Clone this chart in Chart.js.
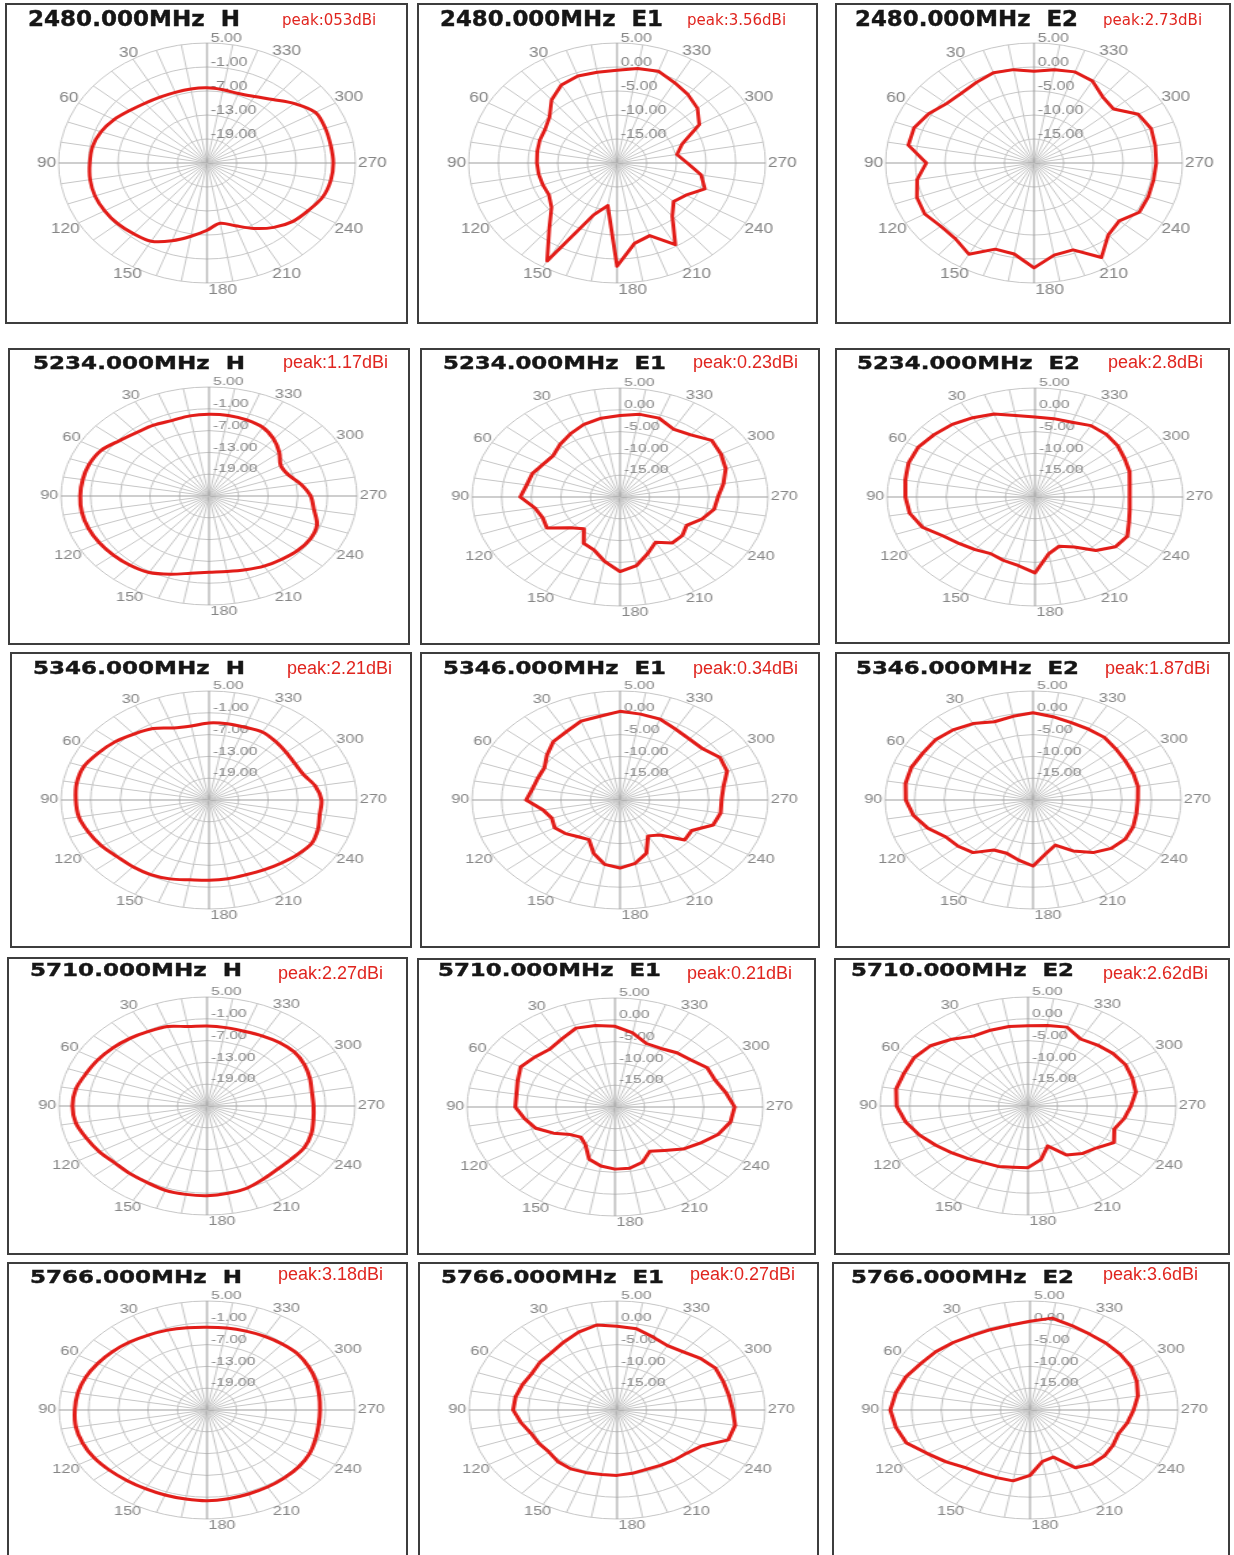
<!DOCTYPE html>
<html>
<head>
<meta charset="utf-8">
<title>Radiation patterns</title>
<script src="https://cdn.jsdelivr.net/npm/chart.js@4.4.1/dist/chart.umd.min.js"></script>
<style>
  html, body { margin: 0; padding: 0; background: #fff; }
  body { position: relative; width: 1234px; height: 1555px; overflow: hidden; font-family: "Liberation Sans", Arial, sans-serif; }
  .panel { position: absolute; box-sizing: border-box; border: 2px solid #3d3d3d; background: #fff; }
  canvas.plot { position: absolute; }
  .title { position: absolute; white-space: pre; font-family: "DejaVu Sans", sans-serif; font-weight: bold; color: #161616; line-height: 1; transform-origin: 0 0; -webkit-text-stroke: 0.4px #161616; }
  .peak { position: absolute; white-space: pre; color: #e0251f; line-height: 1; transform-origin: 0 0; }
</style>
</head>
<body>
<script>
// Measurement angles (degrees, counter-clockwise from the top)
const angleDeg = [0, 10, 20, 30, 40, 50, 60, 70, 80, 90, 100, 110, 120, 130, 140, 150, 160, 170,
                  180, 190, 200, 210, 220, 230, 240, 250, 260, 270, 280, 290, 300, 310, 320, 330, 340, 350];

// Ring levels (dB) of the two scale types
const ringLevelsH = [-25, -19, -13, -7, -1, 5];
const ringLevelsE = [-20, -15, -10, -5, 0, 5];

// Gain (dBi) per angle
const gain2480H  = [-6.2, -6.2, -6.2, -6.0, -5.5, -4.6, -3.3, -2.2, -1.5, -1.3, -1.0, -0.9, -1.1, -1.4, -1.9, -2.4, -4.3, -6.4,
                    -8.2, -9.7, -8.3, -6.1, -4.0, -2.3, -1.3, -0.1, 0.4, 0.53, 0.4, 0.45, 0.3, -1.9, -4.3, -5.8, -6.5, -6.4];
const gain2480E1 = [-0.7, -0.8, -0.7, -1.25, -2.85, -5.15, -6.0, -6.15, -6.35, -6.5, -6.6, -6.7, -6.75, -5.6, -2.25, 3.56, -8.5, -11.0,
                    1.5, -3.0, -3.9, -0.35, -5.5, -7.55, -6.6, -4.25, -5.6, -8.15, -9.75, -8.3, -4.0, -2.3, -1.4, -0.65, 0.35, 0.0];
const gain2480E2 = [-0.9, -0.25, 0.0, -0.6, -1.0, -0.75, 0.5, 1.5, 1.5, -1.85, 0.0, 1.0, 1.25, 0.5, 0.6, 1.95, -0.9, -0.75,
                    1.85, -0.5, -0.75, 2.73, -0.5, -1.25, 0.5, 0.5, 0.45, 0.6, 0.75, 1.0, 0.3, -2.5, -2.0, -0.3, 0.2, -0.25];

const gain5234H  = [-2.5, -2.6, -2.9, -2.5, -2.2, -1.3, 0.2, 0.8, 1.0, 1.1, 1.17, 1.0, 0.7, 0.3, -0.1, -0.7, -2.1, -3.4,
                    -4.0, -3.9, -3.4, -2.7, -2.2, -1.6, -1.3, -1.7, -3.4, -4.4, -6.1, -7.9, -8.2, -6.4, -4.6, -3.2, -2.7, -2.5];
const gain5234E1 = [-1.3, -1.65, -2.25, -3.25, -4.25, -5.25, -5.0, -4.25, -4.0, -3.15, -5.4, -6.1, -5.75, -9.0, -10.5, -7.75, -7.1, -5.0,
                    -2.9, -4.0, -6.25, -8.0, -6.25, -6.25, -7.0, -5.25, -3.85, -3.45, -2.25, -1.0, -0.3, 0.23, -1.4, -2.0, -0.75, -0.75];
const gain5234E2 = [-1.65, -1.0, 0.25, 1.0, 1.75, 2.25, 2.8, 2.75, 2.25, 1.9, 1.5, 0.25, -2.1, -3.35, -4.25, -5.0, -4.5, -4.0,
                    -2.6, -6.75, -8.0, -6.75, -4.0, -2.25, -2.0, -3.1, -3.75, -4.0, -3.75, -3.0, -2.5, -1.75, -1.25, -1.1, -1.75, -1.75];

const gain5346H  = [-3.8, -4.3, -3.9, -2.3, -1.3, -0.1, 0.9, 2.0, 2.21, 2.0, 1.8, 1.0, 0.2, -0.7, -1.0, -1.3, -1.9, -2.7,
                    -2.9, -3.0, -3.1, -2.8, -2.3, -1.6, -1.0, -1.5, -2.2, -2.2, -3.1, -4.6, -4.9, -4.6, -4.0, -3.4, -3.7, -3.7];
const gain5346E1 = [0.34, -0.5, -0.75, -1.9, -2.5, -3.9, -5.25, -5.25, -5.0, -4.15, -6.8, -7.75, -7.25, -8.0, -9.0, -9.5, -7.0, -5.0,
                    -4.4, -5.25, -7.0, -10.5, -9.5, -5.75, -6.0, -3.25, -2.75, -2.85, -2.25, -0.75, -0.5, -1.75, -1.75, -1.25, -0.25, 0.0];
const gain5346E2 = [0.0, -0.5, -0.9, 0.25, 1.0, 1.5, 1.5, 1.87, 1.87, 1.5, 0.5, -1.1, -3.0, -3.5, -4.25, -6.75, -7.0, -6.0,
                    -4.85, -7.5, -9.0, -6.5, -4.25, -2.75, -2.0, -2.0, -2.25, -2.3, -2.0, -2.0, -2.0, -1.75, -1.25, -1.25, -1.1, -0.6];

const gain5710H  = [-3.0, -2.8, -1.7, -1.3, -0.7, -0.1, 0.5, 1.1, 2.0, 2.27, 2.0, 1.0, 0.2, -0.6, -0.7, -0.7, -0.3, -0.3,
                    -0.3, -0.6, -1.0, -1.9, -2.5, -2.5, -2.2, -2.5, -3.1, -3.4, -3.4, -2.8, -2.2, -1.9, -2.2, -2.7, -3.1, -3.1];
const gain5710E1 = [-1.5, -1.0, -0.75, -2.0, -2.75, -2.25, -1.6, -2.5, -3.1, -3.15, -4.5, -5.75, -8.0, -10.15, -11.0, -10.0, -7.25, -6.25,
                    -5.75, -5.75, -6.5, -8.25, -7.0, -5.0, -3.4, -1.5, -0.2, 0.21, -1.0, -2.0, -2.0, -3.25, -3.75, -4.5, -4.5, -2.75];
const gain5710E2 = [-1.6, -1.5, -1.5, -1.5, 0.0, 1.5, 2.2, 2.25, 2.62, 2.2, 1.0, -0.5, -2.0, -3.25, -4.25, -5.0, -5.25, -5.75,
                    -5.85, -7.5, -10.25, -7.0, -5.75, -5.0, -3.25, -4.5, -3.5, -2.6, -1.5, -1.25, -1.0, -1.25, -1.75, -2.25, -0.75, -1.25];

const gain5766H  = [-2.2, -2.0, -1.6, -1.2, -0.6, 0.0, 0.6, 1.2, 1.6, 1.8, 2.0, 1.8, 1.4, 0.8, 0.3, 0.0, -0.1, -0.1,
                    0.0, -0.2, -0.4, -0.5, -0.6, -0.7, -1.0, -1.6, -2.0, -2.1, -1.9, -1.5, -1.2, -1.0, -1.3, -1.6, -1.9, -2.1];
const gain5766E1 = [-0.8, -0.2, -1.0, -2.0, -2.8, -3.0, -3.35, -3.0, -2.6, -2.45, -3.5, -4.5, -4.75, -5.0, -4.5, -4.4, -4.7, -5.0,
                    -5.0, -5.25, -5.5, -5.35, -5.0, -4.6, -3.5, 0.0, 0.27, -0.45, -0.8, -0.9, -0.8, -1.6, -2.6, -2.95, -2.2, -1.1];
const gain5766E2 = [0.35, -0.25, -0.4, -0.3, 0.2, 0.8, 1.3, 2.3, 3.0, 3.6, 3.0, 2.2, 0.0, -1.5, -2.8, -3.3, -3.5, -3.5,
                    -5.0, -8.0, -8.5, -4.7, -3.8, -3.6, -3.8, -4.1, -3.3, -2.5, -1.5, -0.8, -0.25, -0.1, 0.0, 0.1, 0.6, 1.4];

// Panel headings
const frequencies = ['2480.000MHz', '5234.000MHz', '5346.000MHz', '5710.000MHz', '5766.000MHz'];
const polarisations = ['H', 'E1', 'E2'];
const peakLabels = [
  ['peak:053dBi', 'peak:3.56dBi', 'peak:2.73dBi'],
  ['peak:1.17dBi', 'peak:0.23dBi', 'peak:2.8dBi'],
  ['peak:2.21dBi', 'peak:0.34dBi', 'peak:1.87dBi'],
  ['peak:2.27dBi', 'peak:0.21dBi', 'peak:2.62dBi'],
  ['peak:3.18dBi', 'peak:0.27dBi', 'peak:3.6dBi']
];
const gains = [
  [gain2480H, gain2480E1, gain2480E2],
  [gain5234H, gain5234E1, gain5234E2],
  [gain5346H, gain5346E1, gain5346E2],
  [gain5710H, gain5710E1, gain5710E2],
  [gain5766H, gain5766E1, gain5766E2]
];

// ---- page layout ----
// per panel: box left, top, right, bottom, plot centre x, y, title x, peak x
const panelBoxes = [
  [[5, 3, 408, 324, 207, 163, 28, 282], [417, 3, 818, 324, 617, 163, 440, 687], [835, 3, 1231, 324, 1034, 163, 855, 1103]],
  [[8, 348, 410, 645, 209, 496, 33, 283], [420, 348, 820, 645, 620, 497, 443, 693], [835, 348, 1230, 644, 1035, 497, 857, 1108]],
  [[10, 652, 412, 948, 209, 800, 33, 287], [420, 652, 820, 948, 620, 800, 443, 693], [835, 652, 1230, 948, 1033, 800, 856, 1105]],
  [[7, 957, 408, 1255, 207, 1106, 30, 278], [417, 958, 816, 1255, 615, 1107, 438, 687], [834, 958, 1230, 1255, 1028, 1106, 851, 1103]],
  [[7, 1262, 408, 1580, 207, 1410, 30, 278], [418, 1262, 819, 1580, 617, 1410, 441, 690], [832, 1262, 1230, 1580, 1030, 1410, 851, 1103]]
];
// per row: vertical radius, title cap top, peak text mid line, fonts
const rowStyles = [
  { ry: 120, capTop: 12,   peakMid: 21.5, titleSize: 21,   peakFamily: '"DejaVu Sans"', peakSize: 15, tickSize: 13,   pointSize: 14 },
  { ry: 109, capTop: 356,  peakMid: 364,  titleSize: 18.5, peakFamily: '"Liberation Sans", Arial', peakSize: 18, tickSize: 11.5, pointSize: 12 },
  { ry: 109, capTop: 661,  peakMid: 670,  titleSize: 18.5, peakFamily: '"Liberation Sans", Arial', peakSize: 18, tickSize: 11.5, pointSize: 12 },
  { ry: 109, capTop: 963,  peakMid: 975,  titleSize: 18.5, peakFamily: '"Liberation Sans", Arial', peakSize: 18, tickSize: 11.5, pointSize: 12 },
  { ry: 109, capTop: 1270, peakMid: 1276, titleSize: 18.5, peakFamily: '"Liberation Sans", Arial', peakSize: 18, tickSize: 11.5, pointSize: 12 }
];
const RX = 148;          // horizontal radius of the outer ring on the page
const MARGIN = 28;       // room around the outer ring for the angle labels
const LINE_RED = '#e21d19';
const GRID = '#c6c6c6';
const AXIS = '#9d9d9d';
const LABEL_GREY = '#858585';

// clockwise drawing order starting at the top (angles run counter-clockwise)
const drawOrder = angleDeg.map((_, i) => (angleDeg.length - i) % angleDeg.length);

// Value and angle labels drawn from the radial scale
const polarText = {
  id: 'polarText',
  beforeDatasetsDraw(chart, args, opts) {
    const s = chart.scales.r;
    const ctx = chart.ctx;
    ctx.save();
    ctx.fillStyle = opts.color;
    ctx.textBaseline = 'middle';

    ctx.font = opts.tickSize + 'px "Liberation Sans", Arial, sans-serif';
    ctx.textAlign = 'left';
    s.ticks.forEach(t => {
      if (t.value <= s.min) return;
      const d = s.getDistanceFromCenterForValue(t.value);
      ctx.fillText(t.value.toFixed(2), s.xCenter + 3, s.yCenter - d - 5);
    });

    ctx.font = opts.pointSize + 'px "Liberation Sans", Arial, sans-serif';
    const R = s.drawingArea;
    chart.data.labels.forEach((lab, i) => {
      const deg = Number(lab);
      if (deg % 30 !== 0 || deg === 0) return;
      const text = String(lab);
      if (deg === 180) {
        ctx.textAlign = 'left';
        ctx.fillText(text, s.xCenter + 1, s.yCenter + R + 7);
        return;
      }
      const w = ctx.measureText(text).width;
      const a = s.getIndexAngle(i);
      const dist = R + 4 + Math.max(0, w / 2 - 2) * Math.abs(Math.sin(a));
      const p = s.getPointPosition(i, dist);
      ctx.textAlign = 'center';
      ctx.fillText(text, p.x, p.y);
    });
    ctx.restore();
  }
};

function addPanel(row, col) {
  const [bl, bt, br, bb, cx, cy, tx, px] = panelBoxes[row][col];
  const st = rowStyles[row];
  const pol = polarisations[col];
  const levels = pol === 'H' ? ringLevelsH : ringLevelsE;
  const values = gains[row][col];

  const box = document.createElement('div');
  box.className = 'panel';
  Object.assign(box.style, { left: bl + 'px', top: bt + 'px', width: (br - bl) + 'px', height: (bb - bt) + 'px' });
  document.body.appendChild(box);

  // square canvas, stretched horizontally into an ellipse
  const half = st.ry + MARGIN;
  const sx = RX / st.ry;
  const cv = document.createElement('canvas');
  cv.className = 'plot';
  cv.width = 2 * half;
  cv.height = 2 * half;
  Object.assign(cv.style, {
    left: (cx - half * sx) + 'px', top: (cy - half) + 'px',
    width: (2 * half * sx) + 'px', height: (2 * half) + 'px'
  });
  document.body.appendChild(cv);

  new Chart(cv, {
    type: 'radar',
    data: {
      labels: drawOrder.map(i => angleDeg[i]),
      datasets: [{
        data: drawOrder.map(i => values[i]),
        borderColor: LINE_RED,
        borderWidth: 3,
        pointRadius: 0,
        pointHoverRadius: 0,
        fill: false,
        tension: pol === 'H' ? 0.3 : 0,
        borderJoinStyle: 'round'
      }]
    },
    options: {
      responsive: false,
      animation: false,
      devicePixelRatio: 1,
      layout: { padding: MARGIN },
      events: [],
      plugins: {
        legend: { display: false },
        tooltip: { enabled: false },
        polarText: { color: LABEL_GREY, tickSize: st.tickSize, pointSize: st.pointSize }
      },
      scales: {
        r: {
          min: levels[0],
          max: levels[levels.length - 1],
          ticks: { display: false, stepSize: levels[1] - levels[0] },
          pointLabels: { display: false },
          grid: { circular: true, color: GRID, lineWidth: 1 },
          angleLines: {
            lineWidth: 1,
            color: c => (angleDeg[drawOrder[c.index]] % 90 === 0 ? AXIS : GRID)
          }
        }
      }
    },
    plugins: [polarText]
  });

  const title = document.createElement('div');
  title.className = 'title';
  title.textContent = frequencies[row] + '  ' + pol;
  title.style.fontSize = st.titleSize + 'px';
  title.style.left = tx + 'px';
  title.style.top = (st.capTop - 0.12 * st.titleSize) + 'px';
  document.body.appendChild(title);
  const tw = title.getBoundingClientRect().width;
  const target = pol === 'H' ? 212 : 223;
  title.style.transform = 'scaleX(' + (target / tw) + ')';

  const peak = document.createElement('div');
  peak.className = 'peak';
  peak.textContent = peakLabels[row][col];
  peak.style.fontFamily = st.peakFamily;
  peak.style.fontSize = st.peakSize + 'px';
  peak.style.left = px + 'px';
  peak.style.top = (st.peakMid - 0.587 * st.peakSize) + 'px';
  document.body.appendChild(peak);
}

for (let r = 0; r < frequencies.length; r++) {
  for (let c = 0; c < polarisations.length; c++) addPanel(r, c);
}
</script>
</body>
</html>
